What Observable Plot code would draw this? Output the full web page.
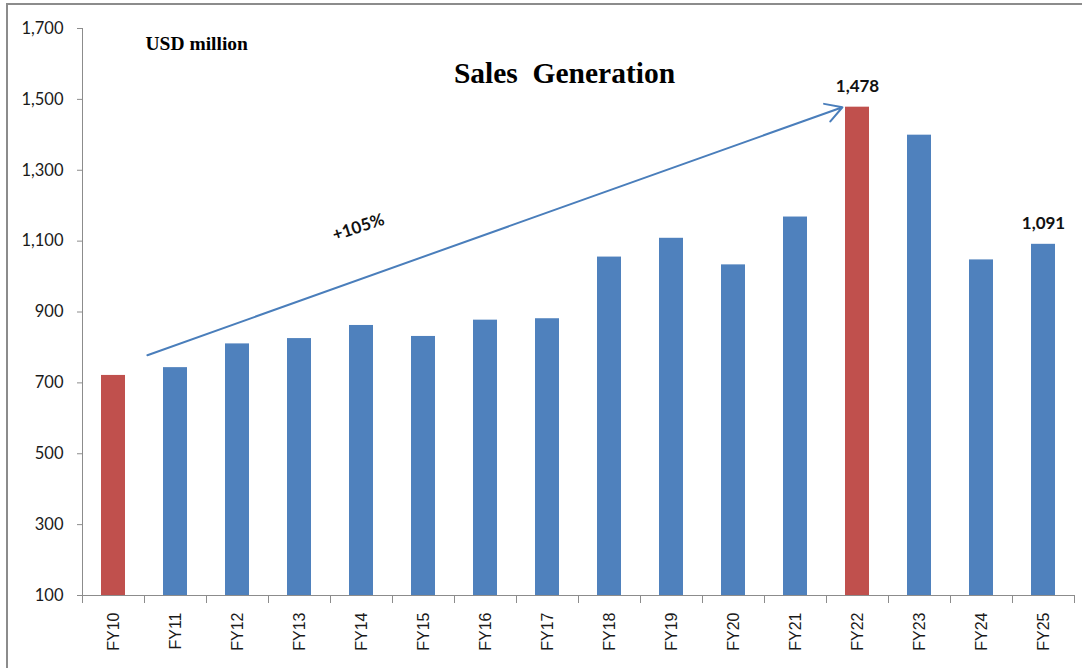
<!DOCTYPE html>
<html><head><meta charset="utf-8">
<script src="https://cdn.jsdelivr.net/npm/d3@7"></script>
<script src="https://cdn.jsdelivr.net/npm/@observablehq/plot@0.6"></script>
<style>
html,body{margin:0;padding:0;background:#fff;overflow:hidden;width:1082px;height:668px;}
#frame{position:absolute;left:6px;top:3px;width:1200px;height:800px;border-left:2px solid #8c8c8c;border-top:2px solid #8c8c8c;}
#chart{position:absolute;left:0;top:0;}
</style></head><body>
<div id="frame"></div><div id="chart"></div>
<script>
// ---- data ----
const years = ["FY10","FY11","FY12","FY13","FY14","FY15","FY16","FY17","FY18","FY19","FY20","FY21","FY22","FY23","FY24","FY25"];
const sales = [721,743,810,825,862,831,877,881,1055,1108,1033,1168,1478,1399,1047,1091];
const highlighted = ["FY10","FY22"];
const labeled = ["FY22","FY25"];
const yTicks = [100,300,500,700,900,1100,1300,1500,1700];
const titleText = "Sales\u00a0\u00a0Generation";
const unitText = "USD million";
// growth annotation (arrow from FY10 towards FY22)
const arrowFrom = ["FY10"];
const arrowTo = ["FY22"];
const arrowValues = [744, 1493];
const growthText = ["+105%"];
const growthAt = ["FY14"];
const growthValue = [1139];

const blue = "#4F81BD", red = "#C0504D", axisGray = "#8c8c8c";
const rows = years.map((fy, i) => ({fy, sales: sales[i]}));
const arrowRows = [{from: arrowFrom[0], to: arrowTo[0], v1: arrowValues[0], v2: arrowValues[1]}];
const growthRows = [{at: growthAt[0], v: growthValue[0], label: growthText[0]}];
const fmt = d3.format(",");

const chart = Plot.plot({
  width: 1082, height: 668,
  marginLeft: 82, marginRight: 8, marginTop: 28, marginBottom: 73,
  style: {background: "transparent", fontFamily: "Lato"},
  x: {domain: years, paddingInner: 0.61, paddingOuter: 0.305, label: null, axis: null},
  y: {domain: [100, 1700], label: null, axis: null},
  color: {type: "identity"},
  marks: [
    Plot.barY(rows, {x: "fy", y1: 100, y2: "sales", fill: d => highlighted.includes(d.fy) ? red : blue}),
    Plot.ruleY([100], {stroke: axisGray, strokeWidth: 1}),
    Plot.ruleX(["FY10"], {x: d => d, dx: -31, y1: 100, y2: 1700, stroke: axisGray}),
    Plot.ruleX(years, {x: d => d, dx: -31, y1: 100, y2: 100, insetBottom: -8, stroke: axisGray}),
    Plot.ruleX(["FY25"], {x: d => d, dx: 31, y1: 100, y2: 100, insetBottom: -8, stroke: axisGray}),
    Plot.axisY(yTicks, {tickSize: 5, tickPadding: 14, tickFormat: fmt, fontSize: 16.5, fontFamily: "Lato", stroke: axisGray, fill: "#1a1a1a"}),
    Plot.axisX({tickSize: 0, tickPadding: 17, tickRotate: -90, fontSize: 16, fontFamily: "Liberation Sans", fill: "#1a1a1a"}),
    Plot.arrow(arrowRows, {x1: "from", y1: "v1", x2: "to", y2: "v2", stroke: "#4A7EBB", strokeWidth: 2, headLength: 14, headAngle: 60, insetStart: 36, insetEnd: 16, bend: 0}),
    Plot.text(growthRows, {x: "at", y: "v", text: "label", rotate: -18, dx: -3, fontSize: 17, fontWeight: "bold", fontFamily: "Lato", fill: "#111"}),
    Plot.text(rows.filter(d => labeled.includes(d.fy)), {x: "fy", y: "sales", text: d => fmt(d.sales), dy: -15, lineAnchor: "bottom", fontSize: 17, fontWeight: "bold", fontFamily: "Lato", fill: "#111"}),
    Plot.text([titleText], {text: d => d, frameAnchor: "top", dx: -14, dy: 54, lineAnchor: "bottom", fontSize: 29.5, fontWeight: "bold", fontFamily: "Liberation Serif", fill: "#000"}),
    Plot.text([unitText], {text: d => d, frameAnchor: "top-left", dx: 63, dy: 21, lineAnchor: "bottom", textAnchor: "start", fontSize: 19.5, fontWeight: "bold", fontFamily: "Liberation Serif", fill: "#000"})
  ]
});
document.getElementById("chart").appendChild(chart);
</script>
</body></html>
